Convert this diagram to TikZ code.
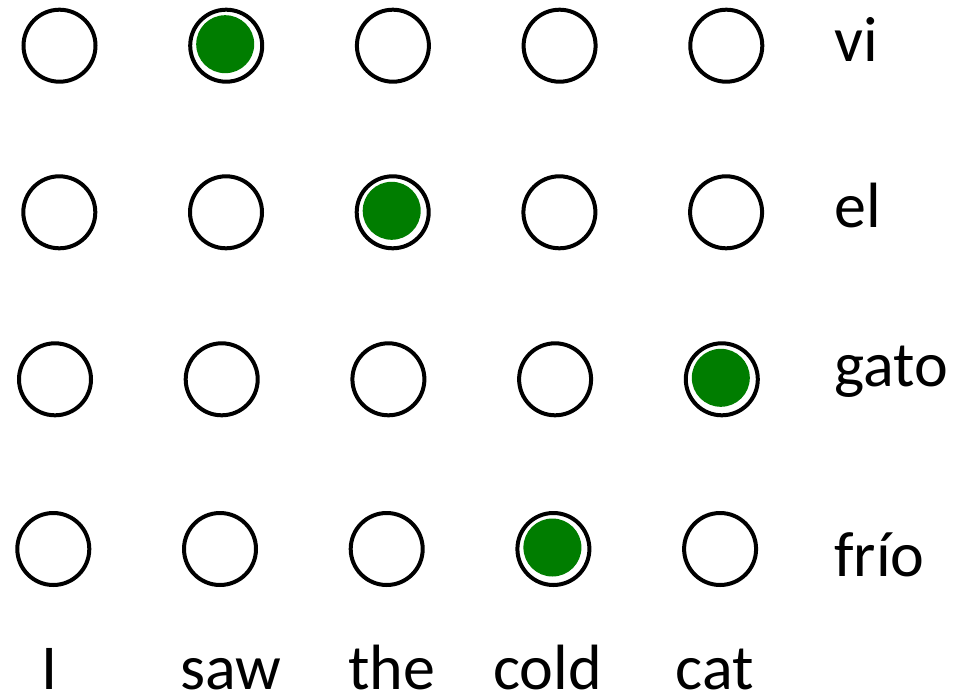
\documentclass[tikz,border=0pt]{standalone}
\usepackage{fontspec}
\setmainfont{Carlito}
\usepackage{tikz}
\usetikzlibrary{positioning}
\definecolor{dotgreen}{RGB}{0,125,0}

\tikzset{
  cell/.style={circle, draw, line width=4pt, minimum size=72pt, inner sep=0pt},
  hit/.style={circle, fill=dotgreen, minimum size=58pt, inner sep=0pt},
  word/.style={inner sep=0pt, font=\fontsize{64}{70}\selectfont},
}

\begin{document}
\begin{tikzpicture}[x=1pt, y=-1pt]
  \useasboundingbox (0,0) rectangle (966,693);

  % grid of alignment cells, one row per Spanish word
  \foreach \r/\y/\x in {1/45.7/59.5, 2/212.3/59.3, 3/379.3/55, 4/549/53.3}
    \foreach \c in {1,...,5}
      \node[cell] (c\r\c) at ({\x+166.7*(\c-1)},\y) {};

  % aligned pairs
  \foreach \r/\c in {1/2, 2/3, 3/5, 4/4}
    \node[hit] (h\r\c) at ([shift={(-1,-1.5)}]c\r\c.center) {};

  % target words
  \node[word, anchor=base west] (vi)   at (834,62)    {vi};
  \node[word, anchor=base west] (el)   at (834,227)   {el};
  \node[word, anchor=base west] (gato) at (834,386.7) {gato};
  \node[word, anchor=base west] (frio) at (834,576.7) {frío};

  % source words
  \node[word, anchor=base] (wI)    at (50,689)    {I};
  \node[word, anchor=base] (saw)   at (230.5,689) {saw};
  \node[word, anchor=base] (the)   at (391.5,689) {the};
  \node[word, anchor=base] (cold)  at (547.5,689) {cold};
  \node[word, anchor=base] (cat)   at (715,689)   {cat};
\end{tikzpicture}
\end{document}
